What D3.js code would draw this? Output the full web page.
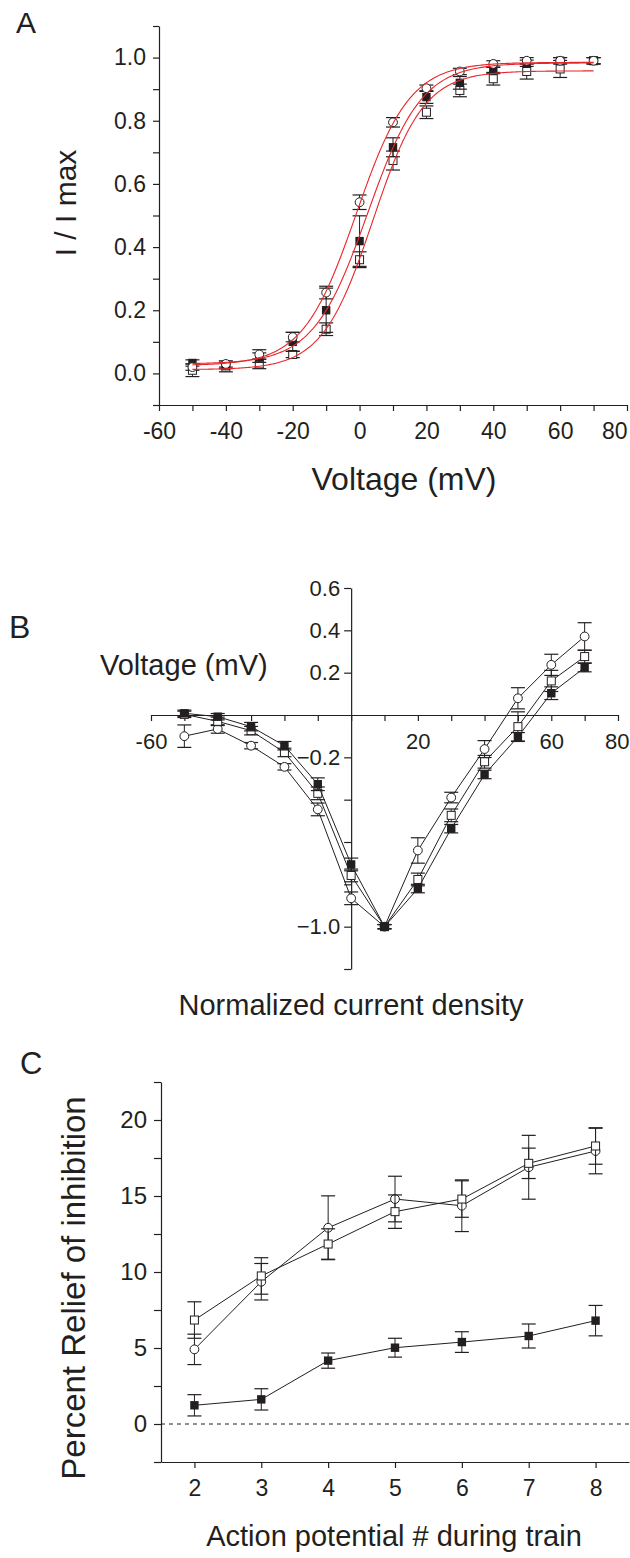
<!DOCTYPE html>
<html><head><meta charset="utf-8">
<script src="https://cdn.jsdelivr.net/npm/d3@7"></script>
<style>
body{margin:0;background:#fff;}
svg{display:block;}
text{font-family:"Liberation Sans",Arial,sans-serif;fill:#231f20;}
</style></head>
<body>
<svg id="c" width="630" height="1558"></svg>
<script>
// ---------- Panel A data ----------
const voltA = [-50,-40,-30,-20,-10,0,10,20,30,40,50,60,70];
const aCircle = [0.02,0.03,0.06,0.115,0.256,0.542,0.795,0.903,0.956,0.98,0.99,0.99,0.99];
const aCircleErr = [0.01,0.01,0.015,0.015,0.02,0.023,0.015,0.01,0.01,0.01,0.01,0.01,0.01];
const aFilled = [0.033,0.025,0.05,0.10,0.20,0.419,0.716,0.875,0.92,0.959,0.982,0.99,0.99];
const aFilledErr = [0.01,0.01,0.015,0.03,0.07,0.08,0.03,0.02,0.02,0.01,0.01,0.01,0.01];
const aOpenSq = [0.01,0.02,0.03,0.06,0.14,0.36,0.674,0.827,0.896,0.933,0.956,0.964,0.99];
const aOpenSqErr = [0.02,0.015,0.015,0.01,0.02,0.025,0.03,0.02,0.02,0.02,0.024,0.027,0.01];
// Boltzmann fit parameters [bottom, top, V1/2, slope] for circle, filled, open square
const fitCircle = [0.025,0.985,-1,8];
const fitFilled = [0.03,0.983,2.4,8.1];
const fitOpenSq = [0.012,0.958,4,7.6];
const aXTicks = [-60,-40,-20,0,20,40,60,80];
const aYTicks = [0.0,0.2,0.4,0.6,0.8,1.0];

// ---------- Panel B data ----------
const voltB = [-50,-40,-30,-20,-10,0,10,20,30,40,50,60,70];
const bCircle = [-0.10,-0.066,-0.145,-0.245,-0.446,-0.866,-1.0,-0.64,-0.39,-0.161,0.079,0.237,0.371];
const bCircleErr = [0.053,0.02,0.015,0.015,0.03,0.03,0.01,0.06,0.025,0.04,0.05,0.05,0.065];
const bOpenSq = [0.003,-0.03,-0.074,-0.177,-0.37,-0.758,-1.0,-0.777,-0.474,-0.221,-0.055,0.161,0.276];
const bOpenSqErr = [0.015,0.02,0.02,0.02,0.03,0.03,0.01,0.03,0.03,0.03,0.07,0.05,0.03];
const bFilled = [0.008,-0.008,-0.055,-0.145,-0.327,-0.706,-1.0,-0.82,-0.537,-0.281,-0.103,0.103,0.224];
const bFilledErr = [0.015,0.015,0.02,0.02,0.03,0.03,0.01,0.02,0.02,0.02,0.02,0.03,0.02];
const bXLabels = [-60,20,60,80];
const bYLabels = [0.6,0.4,0.2,-0.2,-1.0];

// ---------- Panel C data ----------
const apNum = [2,3,4,5,6,7,8];
const cOpenSq = [6.84,9.74,11.84,13.97,14.8,17.15,18.29];
const cOpenSqErr = [1.2,1.2,1.0,1.1,1.2,1.0,1.2];
const cCircle = [4.91,9.36,12.91,14.8,14.36,16.89,17.96];
const cCircleErr = [1.0,1.2,2.1,1.5,1.7,2.1,1.5];
const cFilled = [1.23,1.62,4.17,5.02,5.39,5.79,6.8];
const cFilledErr = [0.7,0.7,0.5,0.62,0.68,0.79,1.0];
const cXTicks = [2,3,4,5,6,7,8];
const cYTicks = [0,5,10,15,20];

const INK = "#231f20";
const RED = "#e8262a";
const svg = d3.select("#c");
svg.append("rect").attr("width",630).attr("height",1558).attr("fill","#fff");

function styleAxis(g, fs){
  g.selectAll("path.domain").attr("stroke",INK).attr("stroke-width",1.2);
  g.selectAll(".tick line").attr("stroke",INK).attr("stroke-width",1.2);
  g.selectAll(".tick text").attr("fill",INK).style("font-size",fs+"px")
    .style("font-family","'Liberation Sans',Arial,sans-serif");
}

function drawSeries(g, x, y, xs, ys, errs, shape, connect){
  const pts = xs.map((v,i)=>({x:v,y:ys[i],e:errs[i]}));
  const cap = 7;
  const eb = g.append("g");
  pts.forEach(p=>{
    const y1 = y(p.y+p.e), y2 = y(p.y-p.e), cx = x(p.x);
    eb.append("line").attr("x1",cx).attr("x2",cx).attr("y1",y1).attr("y2",y2).attr("stroke",INK).attr("stroke-width",1);
    eb.append("line").attr("x1",cx-cap).attr("x2",cx+cap).attr("y1",y1).attr("y2",y1).attr("stroke",INK).attr("stroke-width",1.2);
    eb.append("line").attr("x1",cx-cap).attr("x2",cx+cap).attr("y1",y2).attr("y2",y2).attr("stroke",INK).attr("stroke-width",1.2);
  });
  if(connect){
    g.append("path").datum(pts).attr("fill","none").attr("stroke",INK).attr("stroke-width",1)
      .attr("d", d3.line().x(d=>x(d.x)).y(d=>y(d.y)));
  }
  const mk = g.append("g");
  pts.forEach(p=>{
    const cx=x(p.x), cy=y(p.y);
    if(shape==="circle"){
      mk.append("circle").attr("cx",cx).attr("cy",cy).attr("r",4.4).attr("fill","#fff").attr("stroke",INK).attr("stroke-width",1);
    } else if(shape==="open"){
      mk.append("rect").attr("x",cx-4).attr("y",cy-4).attr("width",8).attr("height",8).attr("fill","#fff").attr("stroke",INK).attr("stroke-width",1);
    } else {
      mk.append("rect").attr("x",cx-4.2).attr("y",cy-4.2).attr("width",8.4).attr("height",8.4).attr("fill",INK);
    }
  });
}

// ================= Panel A =================
{
  const x = d3.scaleLinear().domain([-60,80]).range([159,627]);
  const y = d3.scaleLinear().domain([-0.1,1.1]).range([405,26]);
  const g = svg.append("g");
  const xa = g.append("g").attr("transform","translate(0,405)")
    .call(d3.axisBottom(x).tickValues(d3.range(-60,81,10)).tickFormat(d=>aXTicks.includes(d)?d:"").tickSize(6).tickPadding(12).tickSizeOuter(0));
  styleAxis(xa,23);
  // keep the last label inside the picture, as in the reference
  xa.selectAll(".tick text").filter(d=>d===80).attr("text-anchor","end").attr("dx","0");
  const ya = g.append("g").attr("transform","translate(159,0)")
    .call(d3.axisLeft(y).tickValues(d3.range(-0.1,1.101,0.1).map(v=>+v.toFixed(1))).tickFormat(d=>aYTicks.some(t=>Math.abs(t-d)<1e-6)?d3.format(".1f")(d):"").tickSize(6).tickPadding(7).tickSizeOuter(0));
  styleAxis(ya,23);
  drawSeries(g,x,y,voltA,aOpenSq,aOpenSqErr,"open",false);
  drawSeries(g,x,y,voltA,aFilled,aFilledErr,"filled",false);
  drawSeries(g,x,y,voltA,aCircle,aCircleErr,"circle",false);
  const fx = d3.range(-50,70.01,0.5);
  [fitCircle,fitFilled,fitOpenSq].forEach(f=>{
    g.append("path").datum(fx).attr("fill","none").attr("stroke",RED).attr("stroke-width",1.1)
      .attr("d", d3.line().x(v=>x(v)).y(v=>y(f[0]+(f[1]-f[0])/(1+Math.exp((f[2]-v)/f[3])))));
  });
  g.append("text").attr("x",404).attr("y",490).attr("text-anchor","middle").style("font-size","32px").text("Voltage (mV)");
  g.append("text").attr("transform","translate(76,203) rotate(-90)").attr("text-anchor","middle").style("font-size","30px").text("I / I max");
  g.append("text").attr("x",16).attr("y",33).style("font-size","30px").text("A");
}

// ================= Panel B =================
{
  const x = d3.scaleLinear().domain([-60,80]).range([151,618]);
  const y = d3.scaleLinear().domain([-1.2,0.6]).range([969,588]);
  const g = svg.append("g");
  const xa = g.append("g").attr("transform",`translate(0,${y(0)})`)
    .call(d3.axisBottom(x).tickValues(d3.range(-60,81,10)).tickFormat(d=>bXLabels.includes(d)?d:"").tickSize(6).tickPadding(12).tickSizeOuter(0));
  styleAxis(xa,22);
  xa.selectAll(".tick text").filter(d=>d===80).attr("text-anchor","end").attr("dx","0.5em");
  const ya = g.append("g").attr("transform",`translate(${x(0)},0)`)
    .call(d3.axisLeft(y).tickValues(d3.range(-1.2,0.601,0.2).map(v=>+v.toFixed(1)).filter(v=>v!==0)).tickFormat(d=>bYLabels.some(t=>Math.abs(t-d)<1e-6)?d3.format(".1f")(d):"").tickSize(7).tickPadding(4).tickSizeOuter(0));
  styleAxis(ya,22);
  drawSeries(g,x,y,voltB,bCircle,bCircleErr,"circle",true);
  drawSeries(g,x,y,voltB,bOpenSq,bOpenSqErr,"open",true);
  drawSeries(g,x,y,voltB,bFilled,bFilledErr,"filled",true);
  g.append("text").attr("x",100).attr("y",675).style("font-size","29px").text("Voltage (mV)");
  g.append("text").attr("x",351).attr("y",1015).attr("text-anchor","middle").style("font-size","29px").text("Normalized current density");
  g.append("text").attr("x",9).attr("y",638).style("font-size","32px").text("B");
}

// ================= Panel C =================
{
  const x = d3.scaleLinear().domain([1.5,8.5]).range([161,629]);
  const y = d3.scaleLinear().domain([-2.5,22.5]).range([1462,1082]);
  const g = svg.append("g");
  const xa = g.append("g").attr("transform","translate(0,1462)")
    .call(d3.axisBottom(x).tickValues(cXTicks).tickFormat(d3.format("d")).tickSize(6).tickPadding(12).tickSizeOuter(0));
  styleAxis(xa,23);
  const ya = g.append("g").attr("transform","translate(161,0)")
    .call(d3.axisLeft(y).tickValues(d3.range(-2.5,22.51,2.5)).tickFormat(d=>cYTicks.includes(d)?d:"").tickSize(7).tickPadding(7).tickSizeOuter(0));
  styleAxis(ya,24);
  g.append("line").attr("x1",x(1.5)).attr("x2",x(8.5)).attr("y1",y(0)).attr("y2",y(0))
    .attr("stroke",INK).attr("stroke-width",1).attr("stroke-dasharray","4,4");
  drawSeries(g,x,y,apNum,cFilled,cFilledErr,"filled",true);
  drawSeries(g,x,y,apNum,cCircle,cCircleErr,"circle",true);
  drawSeries(g,x,y,apNum,cOpenSq,cOpenSqErr,"open",true);
  g.append("text").attr("x",394).attr("y",1546).attr("text-anchor","middle").style("font-size","29px").text("Action potential # during train");
  g.append("text").attr("transform","translate(85,1288) rotate(-90)").attr("text-anchor","middle").style("font-size","33px").text("Percent Relief of inhibition");
  g.append("text").attr("x",20).attr("y",1074).style("font-size","31px").text("C");
}
</script>
</body></html>
